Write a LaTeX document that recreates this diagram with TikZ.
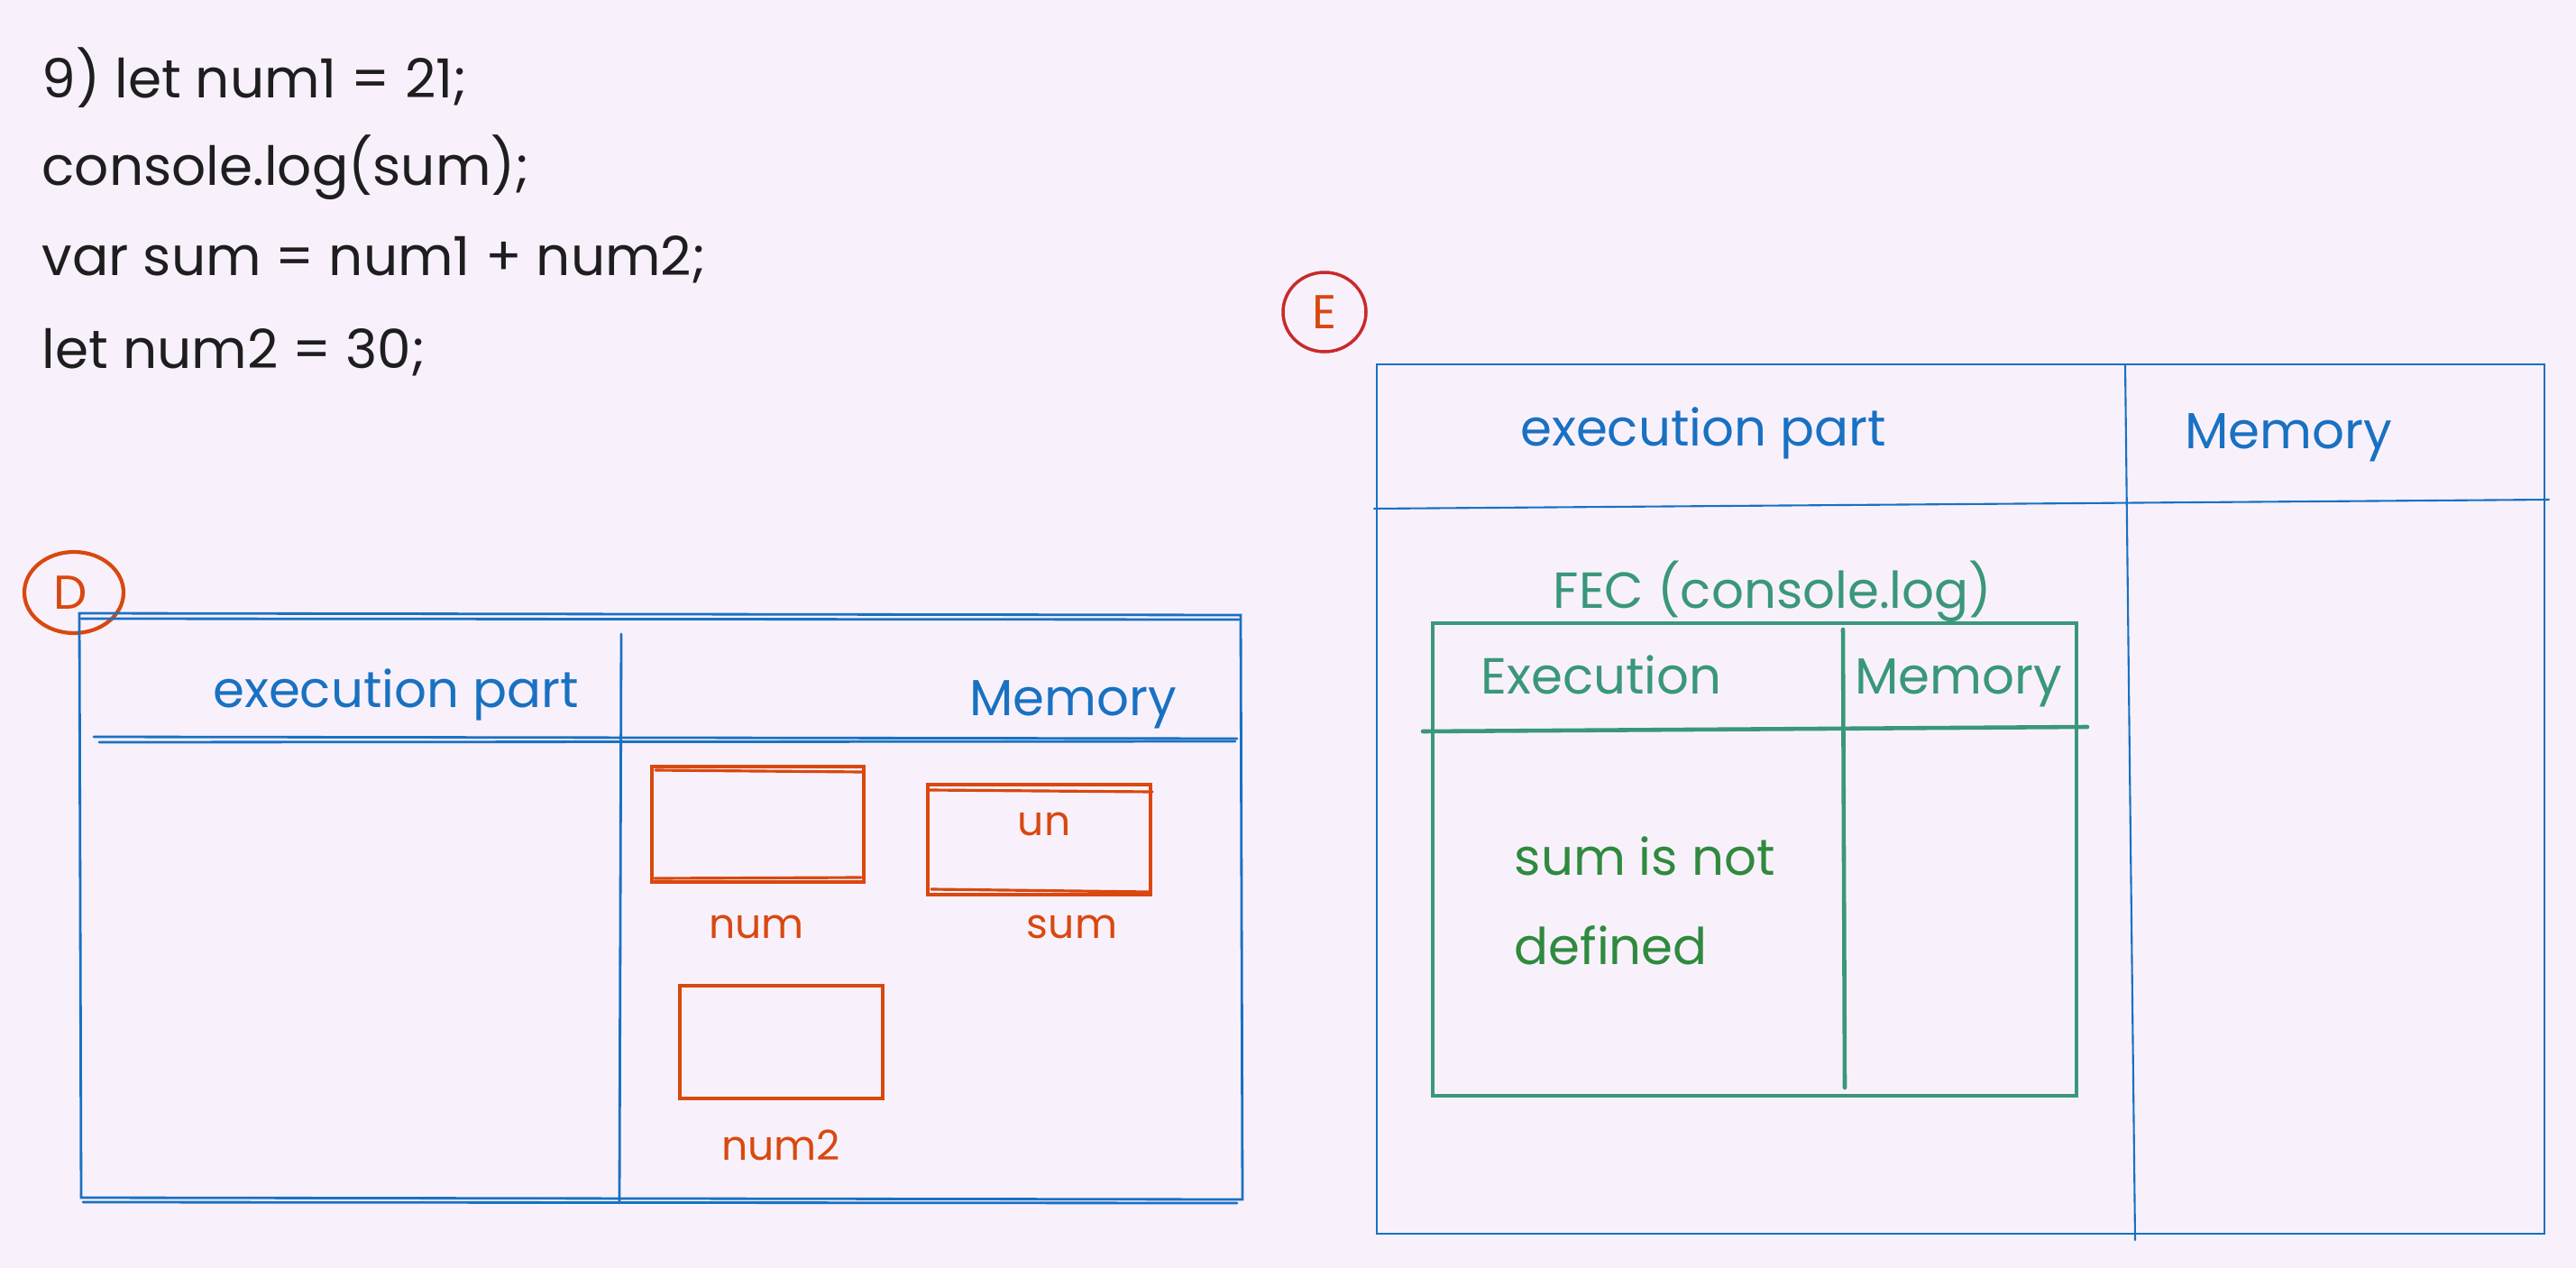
\documentclass[tikz,border=0pt]{standalone}
\usepackage{fontspec}
\setmainfont{Poppins}
\definecolor{bgc}{RGB}{248,241,252}
\definecolor{inkblue}{RGB}{25,113,194}
\definecolor{inkred}{RGB}{217,72,15}
\definecolor{circred}{RGB}{201,42,42}
\definecolor{inkteal}{RGB}{58,151,122}
\definecolor{inkgreen}{RGB}{47,138,62}
\definecolor{inkblack}{RGB}{30,30,30}
\tikzset{
  codetxt/.style={anchor=base west, inner sep=0pt, text=inkblack, font=\fontsize{17}{20}\selectfont},
  bluetxt/.style={anchor=base, inner sep=0pt, text=inkblue, font=\fontsize{16}{19}\selectfont},
  redtxt/.style={anchor=base, inner sep=0pt, text=inkred, font=\fontsize{13}{16}\selectfont},
  tealtxt/.style={anchor=base, inner sep=0pt, text=inkteal, font=\fontsize{16}{19}\selectfont},
  greentxt/.style={anchor=base west, inner sep=0pt, text=inkgreen, font=\fontsize{16}{19}\selectfont},
  blueline/.style={draw=inkblue, line width=0.8pt, line cap=round},
  thinblue/.style={draw=inkblue, line width=0.6pt, line cap=round},
  redline/.style={draw=inkred, line width=0.9pt, line cap=round},
  tealline/.style={draw=inkteal, line width=1.3pt, line cap=round}
}
\begin{document}
\begin{tikzpicture}
\useasboundingbox[fill=bgc] (0,0) rectangle (28.57,-14.06);
% code lines
\foreach \t/\y [count=\i] in {{9) let num1 = 21;}/1.09, {console.log(sum);}/2.06,
  {var sum = num1 + num2;}/3.06, {let num2 = 30;}/4.08}
  \node[codetxt] (code\i) at (0.46,-\y) {\t};
% D
\draw[redline, line width=1.2pt] (0.82,-6.57) ellipse (0.55 and 0.45);
\node[text=inkred, font=\fontsize{15}{18}\selectfont] (markD) at (0.78,-6.57) {D};
\draw[blueline] (0.88,-6.80) -- (13.76,-6.82) -- (13.78,-13.30) -- (0.90,-13.28) -- cycle;
\draw[blueline] (0.90,-6.86) -- (13.74,-6.87);
\draw[blueline] (0.92,-13.33) -- (13.72,-13.34);
\draw[blueline] (6.89,-7.03) -- (6.87,-13.34);
\draw[blueline] (1.04,-8.17) -- (13.72,-8.19);
\draw[blueline] (1.10,-8.23) -- (13.70,-8.22);
\node[bluetxt] (execD) at (4.39,-7.84) {execution part};
\node[bluetxt] (memD) at (11.90,-7.93) {Memory};
% memory boxes
\draw[redline] (7.23,-8.50) rectangle (9.58,-9.78);
\draw[redline] (7.27,-8.54) -- (9.56,-8.56);
\draw[redline] (7.26,-9.74) -- (9.55,-9.73);
\draw[redline] (10.29,-8.70) rectangle (12.76,-9.92);
\draw[redline] (10.31,-8.76) -- (12.78,-8.78);
\draw[redline] (10.33,-9.86) -- (12.74,-9.89);
\draw[redline, line width=1.4pt] (7.54,-10.93) rectangle (9.79,-12.18);
\node[redtxt] (valsum) at (11.58,-9.26) {un};
\node[redtxt] (labnum) at (8.39,-10.40) {num};
\node[redtxt] (labsum) at (11.89,-10.40) {sum};
\node[redtxt] (labnumb) at (8.66,-12.86) {num2};
% E
\draw[draw=circred, line width=1pt] (14.69,-3.46) ellipse (0.46 and 0.44);
\node[text=inkred, font=\fontsize{15}{18}\selectfont] (markE) at (14.69,-3.46) {E};
\draw[thinblue] (15.27,-4.04) rectangle (28.22,-13.68);
\draw[thinblue] (23.57,-4.04) -- (23.68,-13.75);
\draw[thinblue] (15.24,-5.64) -- (28.27,-5.54);
\node[bluetxt] (execE) at (18.89,-4.94) {execution part};
\node[bluetxt] (memE) at (25.38,-4.97) {Memory};
% FEC table
\node[tealtxt] (fec) at (19.66,-6.74) {FEC (console.log)};
\draw[tealline] (15.89,-6.91) rectangle (23.03,-12.15);
\draw[tealline] (20.44,-6.98) -- (20.46,-12.06);
\draw[tealline] (15.78,-8.11) -- (23.15,-8.06);
\node[tealtxt] (execF) at (17.76,-7.69) {Execution};
\node[tealtxt] (memF) at (21.72,-7.69) {Memory};
\node[greentxt] (err1) at (16.79,-9.70) {sum is not};
\node[greentxt] (err2) at (16.79,-10.69) {defined};
\end{tikzpicture}
\end{document}
